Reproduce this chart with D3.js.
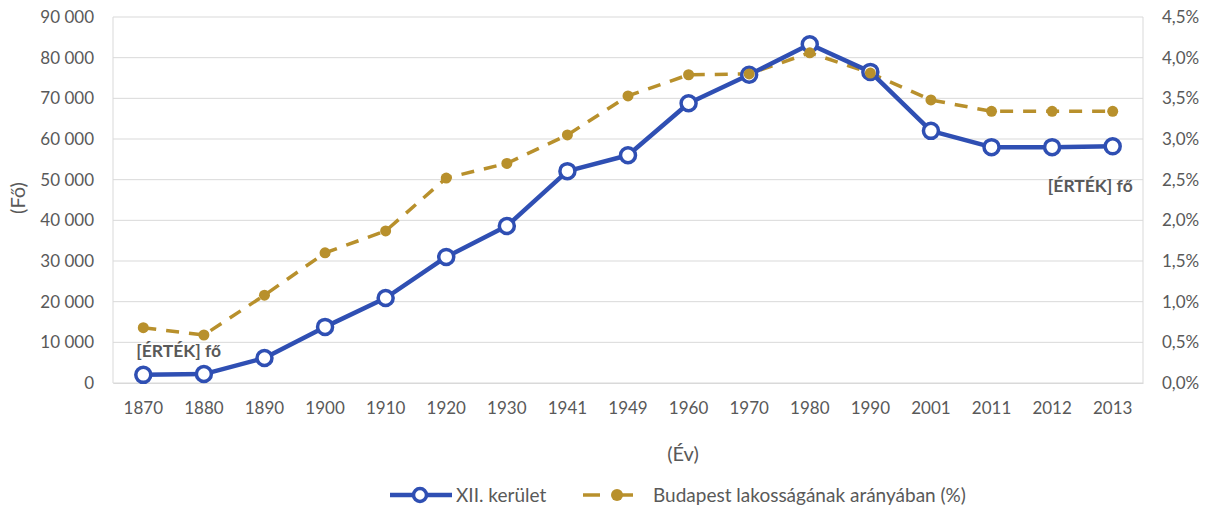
<!DOCTYPE html>
<meta charset="utf-8">
<script src="https://d3js.org/d3.v7.min.js"></script>
<style>
  body { margin: 0; background: #fff; }
  text { font-family: Lato, "Open Sans", sans-serif; }
</style>
<div id="chart"></div>
<script>
// data
var years = ["1870","1880","1890","1900","1910","1920","1930","1941","1949","1960","1970","1980","1990","2001","2011","2012","2013"];
var population = [2000, 2200, 6150, 13800, 20900, 31000, 38600, 52100, 56000, 68800, 75800, 83300, 76500, 62000, 58000, 58000, 58200];
var sharePct = [0.68, 0.59, 1.08, 1.60, 1.87, 2.52, 2.70, 3.05, 3.53, 3.79, 3.80, 4.06, 3.81, 3.48, 3.34, 3.34, 3.34];
var leftTicks = [0, 10000, 20000, 30000, 40000, 50000, 60000, 70000, 80000, 90000];
var rightTicks = [0, 0.5, 1, 1.5, 2, 2.5, 3, 3.5, 4, 4.5];

var W = 1211, H = 508;
var margin = {top: 17, right: 68, bottom: 125, left: 113};
var width = W - margin.left - margin.right,
    height = H - margin.top - margin.bottom;

var blue = "#2f4fb3", gold = "#b8902c", grid = "#d9d9d9", txt = "#595959";

var svg = d3.select("#chart").append("svg")
    .attr("width", W).attr("height", H)
  .append("g")
    .attr("transform", "translate(" + margin.left + "," + margin.top + ")");

var x = d3.scaleBand().domain(years).range([0, width]);
var y = d3.scaleLinear().domain([0, 90000]).range([height, 0]);
var y2 = d3.scaleLinear().domain([0, 4.5]).range([height, 0]);

var fmtPop = function(d) { return d3.format(",")(d).replace(/,/g, " "); };
var fmtPct = function(d) { return d3.format(".1f")(d).replace(".", ",") + "%"; };

// gridlines
svg.append("g").selectAll("line").data(leftTicks).enter().append("line")
  .attr("x1", 0).attr("x2", width)
  .attr("y1", function(d) { return y(d); }).attr("y2", function(d) { return y(d); })
  .attr("stroke", grid).attr("stroke-width", 1);
svg.append("line").attr("x1", 0).attr("x2", 0).attr("y1", 0).attr("y2", height).attr("stroke", grid);
svg.append("line").attr("x1", width).attr("x2", width).attr("y1", 0).attr("y2", height).attr("stroke", grid);

// left axis
var yAxis = svg.append("g")
  .call(d3.axisLeft(y).tickValues(leftTicks).tickFormat(fmtPop).tickSize(0).tickPadding(19));
yAxis.select(".domain").remove();
yAxis.selectAll("text").attr("fill", txt).style("font-size", "17px").style("font-family", "Lato")
  .style("white-space", "pre");

// right axis
var y2Axis = svg.append("g").attr("transform", "translate(" + width + ",0)")
  .call(d3.axisRight(y2).tickValues(rightTicks).tickFormat(fmtPct).tickSize(0).tickPadding(19));
y2Axis.select(".domain").remove();
y2Axis.selectAll("text").attr("fill", txt).style("font-size", "17px").style("font-family", "Lato");

// x axis
var xAxis = svg.append("g").attr("transform", "translate(0," + height + ")")
  .call(d3.axisBottom(x).tickSize(0).tickPadding(19));
xAxis.select(".domain").attr("stroke", grid);
xAxis.selectAll("text").attr("fill", txt).style("font-size", "17px").style("font-family", "Lato");

// axis titles
svg.append("text")
  .attr("transform", "translate(" + (18 - margin.left) + "," + (height / 2 - 2) + ") rotate(-90)")
  .attr("text-anchor", "middle").attr("dy", "0.35em")
  .attr("fill", txt).style("font-size", "20px").text("(Fő)");
svg.append("text")
  .attr("x", width / 2 + 55).attr("y", height + 78)
  .attr("text-anchor", "middle")
  .attr("fill", txt).style("font-size", "20px").text("(Év)");

var cx = function(d, i) { return x(years[i]) + x.bandwidth() / 2; };

// gold dashed line (share)
svg.append("path").datum(sharePct)
  .attr("fill", "none").attr("stroke", gold).attr("stroke-width", 3.5)
  .attr("stroke-dasharray", "13,10")
  .attr("d", d3.line().x(cx).y(function(d) { return y2(d); }));

// blue line (population)
svg.append("path").datum(population)
  .attr("fill", "none").attr("stroke", blue).attr("stroke-width", 4.5)
  .attr("stroke-linejoin", "round")
  .attr("d", d3.line().x(cx).y(function(d) { return y(d); }));

svg.append("g").selectAll("circle").data(population).enter().append("circle")
  .attr("cx", cx).attr("cy", function(d) { return y(d); })
  .attr("r", 7.5).attr("fill", "#fff").attr("stroke", blue).attr("stroke-width", 3.5);

svg.append("g").selectAll("circle").data(sharePct).enter().append("circle")
  .attr("cx", cx).attr("cy", function(d) { return y2(d); })
  .attr("r", 5.5).attr("fill", gold);

// data labels
svg.append("text")
  .attr("x", cx(null, 0) - 7).attr("y", y(population[0]) - 18)
  .attr("fill", txt).style("font-size", "17.5px").style("font-weight", "bold")
  .text("[ÉRTÉK] fő");
svg.append("text")
  .attr("x", cx(null, years.length - 1) + 20).attr("y", y(population[years.length - 1]) + 46)
  .attr("text-anchor", "end")
  .attr("fill", txt).style("font-size", "17.5px").style("font-weight", "bold")
  .text("[ÉRTÉK] fő");

// legend
var leg = d3.select("svg").append("g").attr("transform", "translate(0,495)");
leg.append("line").attr("x1", 390).attr("x2", 452).attr("y1", 0).attr("y2", 0)
  .attr("stroke", blue).attr("stroke-width", 4.5);
leg.append("circle").attr("cx", 420).attr("cy", 0).attr("r", 6.5)
  .attr("fill", "#fff").attr("stroke", blue).attr("stroke-width", 3.5);
leg.append("text").attr("x", 456).attr("y", 0).attr("dy", "0.35em")
  .attr("fill", txt).style("font-size", "19px").text("XII. kerület");
leg.append("line").attr("x1", 583).attr("x2", 600).attr("y1", 0).attr("y2", 0)
  .attr("stroke", gold).attr("stroke-width", 3.5);
leg.append("line").attr("x1", 612).attr("x2", 633).attr("y1", 0).attr("y2", 0)
  .attr("stroke", gold).attr("stroke-width", 3.5);
leg.append("circle").attr("cx", 617).attr("cy", 0).attr("r", 6).attr("fill", gold);
leg.append("text").attr("x", 653).attr("y", 0).attr("dy", "0.35em")
  .attr("fill", txt).style("font-size", "19px").text("Budapest lakosságának arányában (%)");
</script>
